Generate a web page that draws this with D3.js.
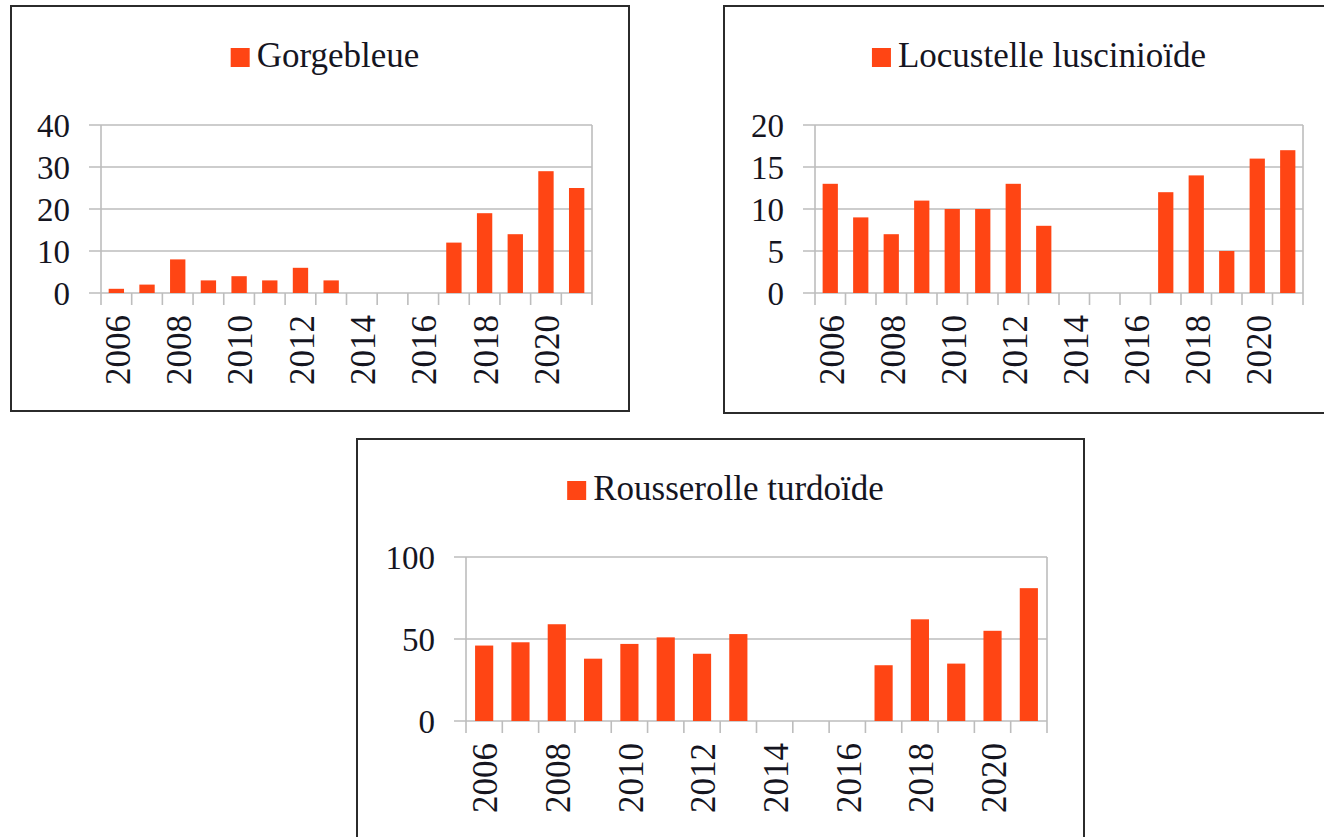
<!DOCTYPE html>
<html>
  <head>
    <meta charset="utf-8" />
    <title>Oiseaux paludicoles 2006-2021</title>
    <script src="https://d3js.org/d3.v7.min.js"></script>
    <style>
      body { margin: 0; background: #fff; }
      text { font-family: "Liberation Serif", "Times New Roman", serif; fill: #15151f; }
    </style>
  </head>
  <body>
    <svg id="chart" width="1324" height="837"></svg>
  </body>
  <script>
    // years on the x axis, one bar per year
    var years = [2006, 2007, 2008, 2009, 2010, 2011, 2012, 2013,
                 2014, 2015, 2016, 2017, 2018, 2019, 2020, 2021];
    var yearLabels = [2006, 2008, 2010, 2012, 2014, 2016, 2018, 2020];

    // counts (no survey 2014-2016)
    var gorgebleue = [1, 2, 8, 3, 4, 3, 6, 3, 0, 0, 0, 12, 19, 14, 29, 25];
    var locustelle = [13, 9, 7, 11, 10, 10, 13, 8, 0, 0, 0, 12, 14, 5, 16, 17];
    var rousserolle = [46, 48, 59, 38, 47, 51, 41, 53, 0, 0, 0, 34, 62, 35, 55, 81];

    var ticksGorge = [0, 10, 20, 30, 40];
    var ticksLocu = [0, 5, 10, 15, 20];
    var ticksRouss = [0, 50, 100];

    var barColor = "#ff4514";
    var gridColor = "#bdbdbd";

    var svg = d3.select("#chart");

    var drawChart = function(name, values, yTicks, box, plot){
      var g = svg.append("g");

      // outer frame
      g.append("rect")
        .attr("x", box.x).attr("y", box.y)
        .attr("width", box.w).attr("height", box.h)
        .attr("fill", "none")
        .attr("stroke", "#2b2b2b")
        .attr("stroke-width", 2);

      var x = d3.scaleBand()
        .domain(years)
        .range([plot.x, plot.x + plot.w])
        .paddingInner(0.5)
        .paddingOuter(0.25);

      var y = d3.scaleLinear()
        .domain([0, d3.max(yTicks)])
        .range([plot.y + plot.h, plot.y]);

      var zero = y(0);

      // horizontal gridlines, they stick out a bit on the left as ticks
      g.selectAll(".grid")
        .data(yTicks)
        .enter().append("line")
        .attr("x1", plot.x - 12)
        .attr("x2", plot.x + plot.w)
        .attr("y1", function(d){ return y(d); })
        .attr("y2", function(d){ return y(d); })
        .attr("stroke", gridColor)
        .attr("stroke-width", 1.6);

      // left and right borders of the plot
      g.selectAll(".side")
        .data([plot.x, plot.x + plot.w])
        .enter().append("line")
        .attr("x1", function(d){ return d; })
        .attr("x2", function(d){ return d; })
        .attr("y1", y(d3.max(yTicks)))
        .attr("y2", zero)
        .attr("stroke", gridColor)
        .attr("stroke-width", 1.6);

      // tick marks between the categories
      var half = (x.step() - x.bandwidth()) / 2;
      var bounds = years.map(function(d){ return x(d) - half; });
      bounds.push(x(years[years.length - 1]) + x.bandwidth() + half);
      g.selectAll(".xtick")
        .data(bounds)
        .enter().append("line")
        .attr("x1", function(d){ return d; })
        .attr("x2", function(d){ return d; })
        .attr("y1", zero)
        .attr("y2", zero + 12)
        .attr("stroke", gridColor)
        .attr("stroke-width", 1.6);

      // bars
      g.selectAll(".bar")
        .data(values)
        .enter().append("rect")
        .attr("class", "bar")
        .attr("x", function(d, i){ return x(years[i]); })
        .attr("width", x.bandwidth())
        .attr("y", function(d){ return y(d); })
        .attr("height", function(d){ return zero - y(d); })
        .attr("fill", barColor);

      // y labels
      g.selectAll(".ylab")
        .data(yTicks)
        .enter().append("text")
        .attr("x", plot.x - 31)
        .attr("y", function(d){ return y(d); })
        .attr("dy", "0.35em")
        .attr("text-anchor", "end")
        .style("font-size", "33px")
        .text(function(d){ return d; });

      // year labels, rotated
      g.selectAll(".xlab")
        .data(yearLabels)
        .enter().append("text")
        .attr("transform", function(d){
          return "translate(" + (x(d) + x.bandwidth() / 2 + 1) + "," + (zero + 22) + ") rotate(-90)";
        })
        .attr("dy", "0.35em")
        .attr("text-anchor", "end")
        .style("font-size", "35px")
        .text(function(d){ return d; });

      // legend on top, centred in the frame
      var leg = g.append("g");
      leg.append("rect")
        .attr("x", 0).attr("y", -19)
        .attr("width", 19).attr("height", 19)
        .attr("fill", barColor);
      var t = leg.append("text")
        .attr("x", 26).attr("y", 0)
        .style("font-size", "35px")
        .text(name);
      var legW = 26 + t.node().getComputedTextLength();
      leg.attr("transform", "translate(" + (box.x + box.w / 2 + 5 - legW / 2) + "," + (box.y + 61) + ")");
    };

    drawChart("Gorgebleue", gorgebleue, ticksGorge,
      {x: 11, y: 6, w: 618, h: 405},
      {x: 101, y: 125, w: 491, h: 168});
    drawChart("Locustelle luscinioïde", locustelle, ticksLocu,
      {x: 724, y: 6, w: 620, h: 407},
      {x: 815, y: 125, w: 488, h: 168});
    drawChart("Rousserolle turdoïde", rousserolle, ticksRouss,
      {x: 357, y: 439, w: 727, h: 430},
      {x: 466, y: 557, w: 581, h: 164});
  </script>
</html>
